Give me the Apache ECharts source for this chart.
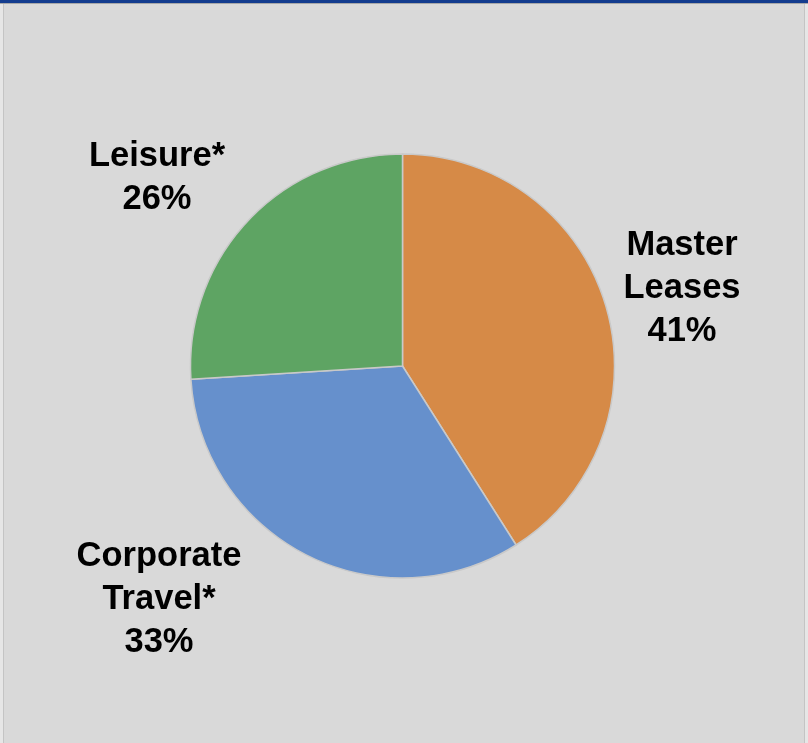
<!DOCTYPE html>
<html>
<head>
<meta charset="utf-8">
<script src="https://cdn.jsdelivr.net/npm/echarts@6/dist/echarts.min.js"></script>
<style>
  html, body { margin: 0; padding: 0; background: #d9d9d9; }
  #chart { width: 808px; height: 743px; }
</style>
</head>
<body>
<div id="chart"></div>
<script>
// Revenue mix by segment (percent)
const categories = ['Master\nLeases', 'Corporate\nTravel*', 'Leisure*'];
const shares = [41, 33, 26];

const sliceColors = ['#d68a47', '#6690cc', '#5ea463'];

// Label anchor points (px) for each slice, in the same order as categories
const labelAnchors = [
  [682, 288],
  [159, 599],
  [157, 178]
];

const chart = echarts.init(document.getElementById('chart'), null, { renderer: 'canvas' });

chart.setOption({
  backgroundColor: '#d9d9d9',
  animation: false,
  graphic: [
    // framing lines around the panel
    { type: 'rect', shape: { x: 0, y: 0, width: 808, height: 3 }, style: { fill: '#133c8e' }, silent: true },
    { type: 'rect', shape: { x: 0, y: 3, width: 808, height: 1 }, style: { fill: '#a8a8a8' }, silent: true },
    { type: 'rect', shape: { x: 0, y: 4, width: 3, height: 739 }, style: { fill: '#e6e6e6' }, silent: true },
    { type: 'rect', shape: { x: 3, y: 4, width: 1, height: 739 }, style: { fill: '#c4c4c4' }, silent: true },
    { type: 'rect', shape: { x: 805, y: 4, width: 3, height: 739 }, style: { fill: '#e6e6e6' }, silent: true },
    { type: 'rect', shape: { x: 804, y: 4, width: 1, height: 739 }, style: { fill: '#c4c4c4' }, silent: true }
  ],
  series: [{
    type: 'pie',
    center: [402.5, 366],
    radius: 212,
    startAngle: 90,
    clockwise: true,
    avoidLabelOverlap: false,
    itemStyle: { borderColor: '#c9c9c9', borderWidth: 1.5 },
    label: {
      show: true,
      position: 'outside',
      formatter: p => p.name + '\n' + p.value + '%',
      fontFamily: 'Liberation Sans, Arial, sans-serif',
      fontWeight: 'bold',
      fontSize: 34.5,
      lineHeight: 43,
      color: '#000',
      align: 'center'
    },
    labelLine: { show: false },
    labelLayout: params => ({
      x: labelAnchors[params.dataIndex][0],
      y: labelAnchors[params.dataIndex][1],
      align: 'center',
      verticalAlign: 'middle'
    }),
    emphasis: { disabled: true },
    data: categories.map((name, i) => ({
      name,
      value: shares[i],
      itemStyle: { color: sliceColors[i] }
    }))
  }]
});
</script>
</body>
</html>
